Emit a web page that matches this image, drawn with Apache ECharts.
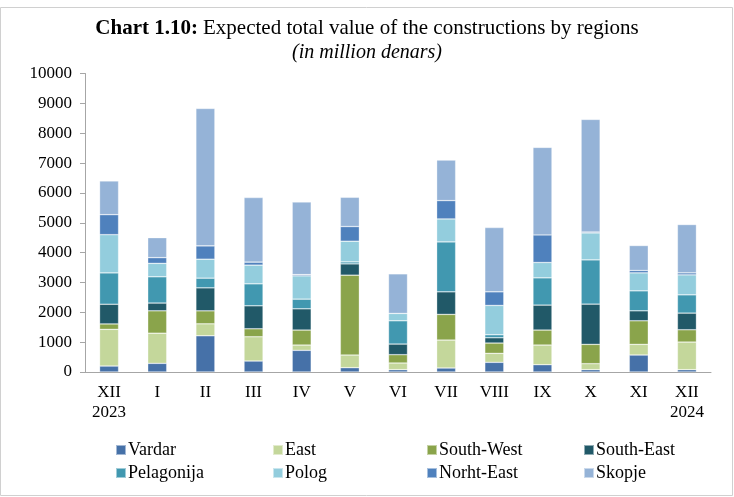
<!DOCTYPE html>
<html>
<head>
<meta charset="utf-8">
<script src="https://cdn.jsdelivr.net/npm/echarts@6/dist/echarts.min.js"></script>
<style>
  html, body { margin: 0; padding: 0; background: #fff; }
  #chart { width: 734px; height: 497px; }
</style>
</head>
<body>
<div id="chart"></div>
<script>
// months (Dec 2023 - Dec 2024)
const months = ['XII\n2023', 'I', 'II', 'III', 'IV', 'V', 'VI', 'VII', 'VIII', 'IX', 'X', 'XI', 'XII\n2024'];
const yTicks = [0, 1000, 2000, 3000, 4000, 5000, 6000, 7000, 8000, 9000, 10000];

// values in million denars
const vardar     = [200, 290, 1214, 368, 726, 144, 77, 134, 324, 244, 77, 569, 77];
const east       = [1230, 1010, 400, 813, 177, 425, 224, 936, 301, 659, 201, 357, 926];
const southWest  = [180, 750, 435, 267, 502, 2675, 278, 860, 345, 502, 648, 790, 412];
const southEast  = [660, 260, 770, 770, 712, 378, 357, 756, 177, 836, 1348, 334, 558];
const pelagonija = [1050, 880, 325, 736, 324, 67, 780, 1672, 101, 913, 1482, 669, 612];
const polog      = [1280, 450, 635, 626, 780, 692, 246, 769, 982, 515, 903, 602, 669];
const northEast  = [670, 190, 445, 100, 40, 492, 0, 615, 456, 923, 33, 80, 67];
const skopje     = [1130, 670, 4605, 2164, 2432, 980, 1326, 1358, 2153, 2933, 3770, 836, 1619];

const seriesDefs = [
  { name: 'Vardar', data: vardar, color: '#4671a8' },
  { name: 'East', data: east, color: '#c4d79b' },
  { name: 'South-West', data: southWest, color: '#8aa44b' },
  { name: 'South-East', data: southEast, color: '#215968' },
  { name: 'Pelagonija', data: pelagonija, color: '#4198b0' },
  { name: 'Polog', data: polog, color: '#93cddd' },
  { name: 'Norht-East', data: northEast, color: '#4f81bd' },
  { name: 'Skopje', data: skopje, color: '#95b3d7' }
];

const font = '"Liberation Serif", "DejaVu Serif", serif';

const chart = echarts.init(document.getElementById('chart'));

// legend laid out as 4 columns x 2 rows
const legendCols = [115, 272, 426, 583];
const legends = legendCols.map(function (x, i) {
  return {
    data: [seriesDefs[i].name, seriesDefs[i + 4].name],
    orient: 'vertical',
    left: x,
    top: 441,
    padding: 0,
    itemWidth: 10,
    itemHeight: 10,
    itemGap: 5,
    icon: 'rect',
    selectedMode: false,
    textStyle: { fontFamily: font, fontSize: 18, color: '#000', padding: [0, 0, 0, -3] }
  };
});

const option = {
  animation: false,
  backgroundColor: '#fff',
  title: {
    left: 'center',
    top: 18,
    padding: 0,
    text: '{b|Chart 1.10:} {n|Expected total value of the constructions by regions}',
    subtext: '(in million denars)',
    itemGap: 4,
    textStyle: {
      fontWeight: 'normal',
      rich: {
        b: { fontFamily: font, fontSize: 21, fontWeight: 'bold', color: '#000' },
        n: { fontFamily: font, fontSize: 21, fontWeight: 'normal', color: '#000' }
      }
    },
    subtextStyle: { fontFamily: font, fontSize: 20, fontStyle: 'italic', color: '#000' }
  },
  graphic: [{
    type: 'rect',
    shape: { x: 0.5, y: 7.5, width: 732, height: 488 },
    style: { fill: 'none', stroke: '#d0d0d0', lineWidth: 1 },
    silent: true
  }],
  legend: legends,
  grid: { left: 85, right: 23, top: 73.5, bottom: 125 },
  xAxis: {
    type: 'category',
    data: months,
    axisLine: { lineStyle: { color: '#a6a6a6', width: 1 } },
    axisTick: { length: 5, lineStyle: { color: '#a6a6a6' } },
    axisLabel: { fontFamily: font, fontSize: 17, color: '#000', margin: 11, lineHeight: 20, interval: 0 }
  },
  yAxis: {
    type: 'value',
    min: yTicks[0],
    max: yTicks[yTicks.length - 1],
    interval: 1000,
    axisLine: { show: true, lineStyle: { color: '#a6a6a6', width: 1 } },
    axisTick: { show: true, length: 5, lineStyle: { color: '#a6a6a6' } },
    splitLine: { show: false },
    axisLabel: {
      fontFamily: font, fontSize: 17, color: '#000', margin: 13,
      formatter: function (v) { return String(v); }
    }
  },
  series: seriesDefs.map(function (s) {
    return {
      name: s.name,
      type: 'bar',
      stack: 'total',
      barWidth: 19,
      data: s.data,
      itemStyle: { color: s.color, borderColor: 'rgba(255,255,255,0.5)', borderWidth: 0.6 }
    };
  })
};

chart.setOption(option);
</script>
</body>
</html>
